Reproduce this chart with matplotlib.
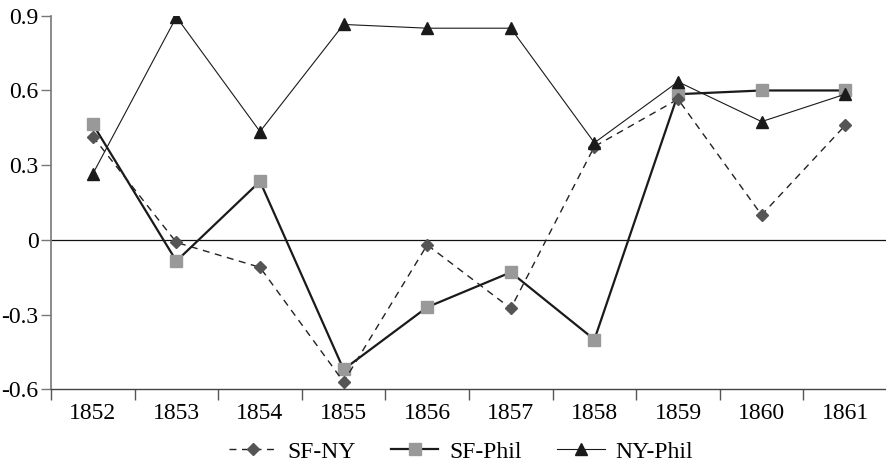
import matplotlib
matplotlib.use("Agg")
import matplotlib.pyplot as plt
import numpy as np

years = ["1852", "1853", "1854", "1855", "1856", "1857", "1858", "1859", "1860", "1861"]
sf_ny = [0.415, -0.01, -0.11, -0.57, -0.02, -0.275, 0.375, 0.565, 0.10, 0.46]
sf_phil = [0.465, -0.085, 0.235, -0.52, -0.27, -0.13, -0.40, 0.585, 0.60, 0.60]
ny_phil = [0.265, 0.895, 0.435, 0.865, 0.85, 0.85, 0.39, 0.635, 0.475, 0.585]
y_ticks = [-0.6, -0.3, 0, 0.3, 0.6, 0.9]
y_labels = ["-0.6", "-0.3", "0", "0.3", "0.6", "0.9"]

plt.rcParams['font.family'] = ['Liberation Serif', 'DejaVu Serif']

fig = plt.figure(figsize=(8.87, 4.63), dpi=100)
ax = fig.add_axes([0.0575, 0.159, 0.9425, 0.807])
x = np.arange(len(years))

ax.axhline(0, color='#111111', lw=0.9, zorder=1)

ax.plot(x, sf_ny, linestyle=(0, (5, 4)), color='#222222', lw=1.0,
        marker='D', markersize=6, markerfacecolor='#555555', markeredgecolor='#555555',
        label='SF-NY', zorder=3)
ax.plot(x, sf_phil, linestyle='-', color='#1a1a1a', lw=1.6,
        marker='s', markersize=8, markerfacecolor='#999999', markeredgecolor='#999999',
        label='SF-Phil', zorder=2)
ax.plot(x, ny_phil, linestyle='-', color='#1a1a1a', lw=0.8,
        marker='^', markersize=9, markerfacecolor='#1a1a1a', markeredgecolor='#1a1a1a',
        label='NY-Phil', zorder=4)

ax.set_xlim(-0.5, len(years) - 0.5)
ax.set_ylim(-0.6, 0.9)
ax.set_yticks(y_ticks)
ax.set_yticklabels(y_labels)
ax.set_xticks(x)
ax.set_xticklabels(years)
ax.tick_params(axis='x', which='major', length=0, pad=10)
ax.set_xticks(np.arange(-0.5, len(years), 1.0), minor=True)
ax.tick_params(axis='x', which='minor', length=8, width=1, color='#555555', direction='out')
ax.tick_params(axis='y', length=7, width=1, color='#777777', pad=2)
ax.tick_params(labelsize=17)

for s in ['top', 'right']:
    ax.spines[s].set_visible(False)
ax.spines['left'].set_color('#777777')
ax.spines['left'].set_linewidth(1.2)
ax.spines['bottom'].set_color('#444444')
ax.spines['bottom'].set_linewidth(1.0)

fig.legend(loc='lower center', ncol=3, frameon=False, fontsize=17,
           bbox_to_anchor=(0.52, -0.045), handlelength=2.0, columnspacing=1.5,
           handletextpad=0.47)

fig.savefig("out.png", dpi=100)
